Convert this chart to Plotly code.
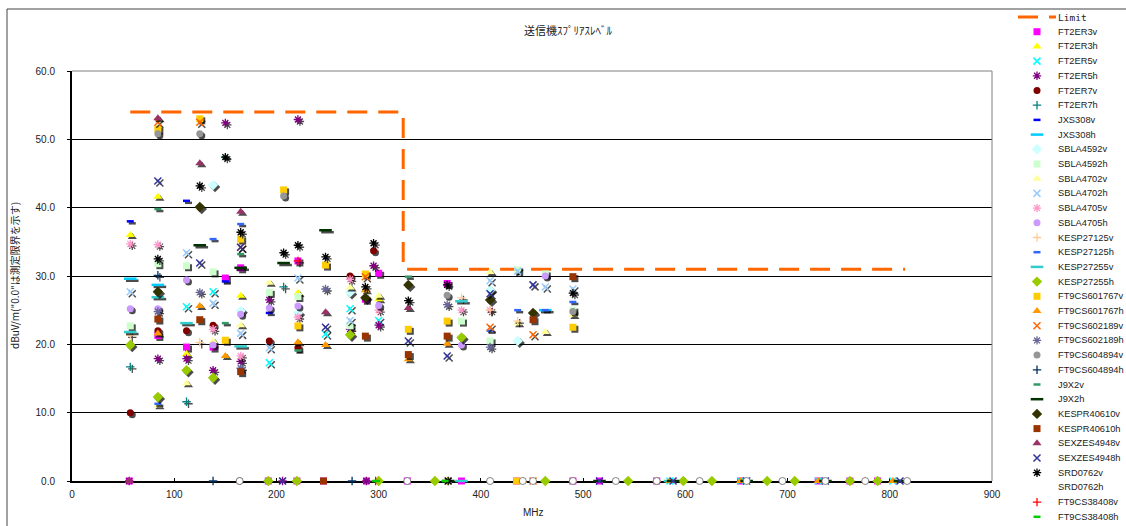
import plotly.graph_objects as go

W, H = 1126, 526

# ---------------- data: (MHz, dBuV/m) per series ----------------
limit_f = [57, 324, 324, 815]
limit_v = [54, 54, 31, 31]

FT2ER3v = [(56, 0), (84, 21.3), (112, 19.6), (138, 19.6), (150, 29.7), (165, 31.2), (192, 0), (220, 0), (221, 32.2),
           (246, 0), (287, 26.6), (288, 0), (300, 30.4), (328, 0), (367, 28.9), (381, 0), (435, 0), (490, 0),
           (516, 0), (572, 0), (654, 0), (730, 0), (761, 0), (788, 0)]
FT2ER3h = [(57, 36.0), (84, 41.6), (112, 18.6), (165, 27.1), (221, 27.5), (300, 26.6)]
FT2ER5v = [(112, 25.5), (138, 27.7), (193, 17.3), (248, 21.5), (272, 25.2), (300, 23.5),
           (585, 0), (654, 0), (730, 0), (803, 0)]
FT2ER5h = [(56, 0), (84, 17.9), (112, 17.9), (138, 16.2), (150, 52.4), (165, 17.5), (193, 26.5), (206, 0),
           (221, 52.9), (272, 22.2), (288, 0), (295, 31.5), (300, 22.8)]
FT2ER7v = [(57, 10.0), (84, 22.0), (112, 22.0), (138, 22.8), (164, 0), (193, 20.5), (221, 19.5), (272, 30.0), (295, 33.7)]
FT2ER7h = [(57, 16.7), (112, 11.6), (207, 28.4)]
JXS308v = [(57, 38.0), (112, 41.0), (150, 29.2), (193, 24.6), (287, 26.9)]
JXS308h = [(57, 29.6), (84, 28.7), (463, 25.0)]
SBLA4592v = [(138, 43.3), (165, 24.9), (221, 24.6), (272, 27.6), (409, 27.9), (436, 20.5)]
SBLA4592h = [(57, 22.7), (84, 31.8), (112, 31.5), (138, 30.6), (193, 27.6), (221, 27.0), (272, 22.7), (381, 23.4),
             (409, 20.5), (436, 30.9), (463, 30.3), (490, 25.0)]
SBLA4702v = [(84, 11.1), (112, 14.3), (138, 20.5), (165, 22.8), (193, 29.0), (272, 28.3), (300, 27.1), (409, 30.6),
             (436, 23.1), (463, 21.8), (490, 24.3)]
SBLA4702h = [(57, 27.7), (112, 33.4), (138, 26.0), (165, 21.6), (193, 19.5), (221, 29.7), (272, 23.5), (409, 29.3),
             (436, 30.7), (463, 28.4), (490, 28.1)]
SBLA4705v = [(57, 34.7), (84, 34.6), (138, 22.2), (165, 18.3), (221, 24.0), (272, 29.5), (300, 25.0), (381, 25.0), (409, 25.0)]
SBLA4705h = [(57, 25.2), (84, 25.2), (112, 29.4), (138, 19.9), (165, 24.4), (193, 25.3), (221, 25.6), (300, 25.7),
             (381, 19.9), (463, 30.0)]
KESP27125v = [(57, 21.3), (125, 20.3), (381, 26.8), (409, 25.0), (436, 23.4), (490, 0), (572, 0), (776, 0)]
KESP27125h = [(84, 11.3), (138, 35.4), (165, 37.6), (409, 22.0), (436, 25.0), (463, 25.0), (490, 26.2)]
KESP27255v = [(57, 21.8), (84, 26.9), (112, 23.1), (165, 19.7), (381, 26.3), (381, 0), (585, 0)]
KESP27255h = [(57, 19.9), (84, 12.3), (112, 16.2), (138, 15.1), (272, 21.4), (381, 21.0), (192, 0), (220, 0), (300, 0),
              (355, 0), (463, 0), (544, 0), (598, 0), (626, 0), (680, 0), (707, 0), (761, 0), (788, 0)]
FT9CS601767v = [(84, 51.5), (125, 53.0), (150, 20.6), (165, 35.4), (207, 42.6), (221, 22.7), (248, 31.6), (287, 30.3),
                (329, 22.2), (367, 23.4), (490, 22.5), (368, 0), (435, 0)]
FT9CS601767h = [(84, 21.6), (125, 25.6), (150, 18.3), (221, 20.3), (248, 19.9), (287, 27.9), (329, 17.8), (367, 20.1),
                (441, 0), (585, 0), (654, 0), (730, 0), (803, 0)]
FT9CS602189v = [(84, 52.5), (125, 52.5), (165, 34.2), (287, 29.9), (409, 22.5), (451, 21.4), (451, 0)]
FT9CS602189h = [(84, 24.8), (125, 27.6), (165, 16.5), (248, 28.1), (367, 25.8), (409, 19.6)]
FT9CS604894v = [(84, 50.8), (125, 50.8), (207, 41.7), (367, 27.2), (490, 24.8)]
FT9CS604894h = [(84, 30.1), (138, 0), (274, 0)]
J9X2v = [(84, 39.8), (150, 47.4), (150, 23.1), (165, 33.2), (221, 19.1), (329, 29.9)]
J9X2h = [(125, 34.5), (165, 31.2), (207, 31.9), (248, 36.7), (368, 0), (516, 0), (588, 0), (660, 0), (737, 0), (810, 0)]
KESPR40610v = [(84, 27.7), (125, 40.1), (287, 26.8), (329, 28.7), (409, 26.5), (451, 24.6)]
KESPR40610h = [(84, 23.7), (125, 23.6), (165, 16.0), (246, 0), (287, 21.2), (329, 18.5), (367, 21.2), (451, 23.6), (490, 29.9)]
SEXZES4948v = [(56, 0), (84, 53.1), (125, 46.5), (165, 39.4), (248, 24.7), (329, 25.3)]
SEXZES4948h = [(84, 43.9), (125, 31.9), (165, 34.2), (248, 22.5), (329, 20.5), (367, 18.3), (409, 27.4), (451, 28.7),
               (206, 0), (368, 0), (516, 0), (588, 0), (660, 0), (737, 0), (810, 0)]
SRD0762v = [(84, 32.5), (125, 43.2), (150, 47.4), (165, 36.4), (207, 33.4), (221, 34.5), (248, 32.8), (287, 28.4),
            (295, 34.8), (329, 26.4), (367, 28.7), (368, 0), (490, 27.5)]
SRD0762h = [(164, 0), (328, 0), (409, 0), (441, 0), (451, 0), (490, 0), (532, 0), (572, 0), (614, 0), (660, 0),
            (695, 0), (737, 0), (776, 0), (817, 0)]
FT9CS38408v = [(221, 32.2), (297, 0)]
FT9CS38408h = [(297, 0), (365, 0)]

# ---------------- styles ----------------
def filled(sym, color, size=7):
    return dict(symbol=sym, color=color, size=size, line=dict(width=0))

def lined(sym, color, size=7, w=1.5):
    return dict(symbol=sym, color=color, size=size, line=dict(color=color, width=w))

series = [
    ("FT2ER3v", FT2ER3v, filled("square", "#FF00FF")),
    ("FT2ER3h", FT2ER3h, filled("triangle-up", "#FFFF00", 8)),
    ("FT2ER5v", FT2ER5v, lined("x-thin", "#00FFFF")),
    ("FT2ER5h", FT2ER5h, lined("asterisk", "#800080", 7, 1.3)),
    ("FT2ER7v", FT2ER7v, filled("circle", "#800000")),
    ("FT2ER7h", FT2ER7h, lined("cross-thin", "#008080", 6, 1.3)),
    ("JXS308v", JXS308v, lined("line-ew", "#0000FF", 5, 2.5)),
    ("JXS308h", JXS308h, lined("line-ew", "#00CCFF", 9, 2.5)),
    ("SBLA4592v", SBLA4592v, filled("diamond", "#CCFFFF", 8)),
    ("SBLA4592h", SBLA4592h, filled("square", "#CCFFCC")),
    ("SBLA4702v", SBLA4702v, filled("triangle-up", "#FFFF99", 8)),
    ("SBLA4702h", SBLA4702h, lined("x-thin", "#99CCFF")),
    ("SBLA4705v", SBLA4705v, lined("asterisk", "#FF99CC", 7, 1.3)),
    ("SBLA4705h", SBLA4705h, filled("circle", "#CC99FF")),
    ("KESP27125v", KESP27125v, lined("cross-thin", "#FFCC99", 6, 1.3)),
    ("KESP27125h", KESP27125h, lined("line-ew", "#3366FF", 5, 2.5)),
    ("KESP27255v", KESP27255v, lined("line-ew", "#33CCCC", 9, 2.5)),
    ("KESP27255h", KESP27255h, filled("diamond", "#99CC00", 8)),
    ("FT9CS601767v", FT9CS601767v, filled("square", "#FFCC00")),
    ("FT9CS601767h", FT9CS601767h, filled("triangle-up", "#FF9900", 8)),
    ("FT9CS602189v", FT9CS602189v, lined("x-thin", "#FF6600")),
    ("FT9CS602189h", FT9CS602189h, lined("asterisk", "#666699", 7, 1.3)),
    ("FT9CS604894v", FT9CS604894v, filled("circle", "#969696")),
    ("FT9CS604894h", FT9CS604894h, lined("cross-thin", "#003366", 6, 1.3)),
    ("J9X2v", J9X2v, lined("line-ew", "#339966", 5, 2.5)),
    ("J9X2h", J9X2h, lined("line-ew", "#003300", 9, 2.5)),
    ("KESPR40610v", KESPR40610v, filled("diamond", "#333300", 8)),
    ("KESPR40610h", KESPR40610h, filled("square", "#993300")),
    ("SEXZES4948v", SEXZES4948v, filled("triangle-up", "#993366", 8)),
    ("SEXZES4948h", SEXZES4948h, lined("x-thin", "#333399")),
    ("SRD0762v", SRD0762v, lined("asterisk", "#000000", 7, 1.3)),
    ("SRD0762h", SRD0762h, filled("circle", "#FFFFFF")),
    ("FT9CS38408v", FT9CS38408v, lined("cross-thin", "#FF0000", 6, 1.3)),
    ("FT9CS38408h", FT9CS38408h, lined("line-ew", "#00CC00", 5, 2.5)),
]

LIMIT_COLOR = "#FF6600"
FONT = "Liberation Sans, Arial, sans-serif"
JFONT = "Noto Sans CJK JP, sans-serif"
SHADOW = "rgba(0,0,0,0.7)"

# plot-area geometry (pixels)
X0PX, X1PX, YTOP, YBOT = 72, 992, 71, 481
XMAX, YMAX = 900, 60
# drop-shadow offset (2 px right, 2 px down) expressed in data units
SDX = 2 * XMAX / (X1PX - X0PX)
SDY = 2 * YMAX / (YBOT - YTOP)

fig = go.Figure()

# limit line
fig.add_trace(go.Scatter(x=limit_f, y=limit_v, mode="lines", name="Limit",
                         line=dict(color=LIMIT_COLOR, width=3, dash="20px,11px"),
                         showlegend=False, hoverinfo="skip"))

for name, pts, mk in series:
    xs = [p[0] for p in pts]
    ys = [p[1] for p in pts]
    sh = dict(mk)
    sh["color"] = SHADOW
    if "line" in mk and mk["line"].get("width", 0) > 0:
        sh["line"] = dict(mk["line"], color=SHADOW)
    fig.add_trace(go.Scatter(x=[v + SDX for v in xs], y=[v - SDY for v in ys], mode="markers",
                             marker=sh, cliponaxis=False, showlegend=False, hoverinfo="skip"))
    m = dict(mk)
    if name == "SRD0762h":
        m = dict(mk, line=dict(color="#666666", width=0.8))
    fig.add_trace(go.Scatter(x=xs, y=ys, mode="markers", name=name, marker=m,
                             cliponaxis=False, showlegend=False))

# ---------------- custom legend (on its own small axes) ----------------
fig.add_trace(go.Scatter(x=[18, 56], y=[0, 0], mode="lines", xaxis="x2", yaxis="y2",
                         line=dict(color=LIMIT_COLOR, width=3, dash="20px,11px"),
                         showlegend=False, hoverinfo="skip"))
for i, (name, pts, mk) in enumerate(series, start=1):
    fig.add_trace(go.Scatter(x=[37], y=[i], mode="markers", xaxis="x2", yaxis="y2",
                             marker=mk, showlegend=False, hoverinfo="skip", cliponaxis=False))
names = ["Limit"] + [s[0] for s in series]
annotations = []
for i, nm in enumerate(names):
    fnt = dict(family=FONT, size=9.3, color="#222222")
    if nm == "Limit":
        fnt = dict(family="DejaVu Sans Mono, monospace", size=9.5, color="#222222")
    annotations.append(dict(x=56, y=i, xref="x2", yref="y2", text=nm, showarrow=False,
                            xanchor="left", yanchor="middle", font=fnt))

# titles
annotations.append(dict(x=568 / W, y=1 - 30 / H, xref="paper", yref="paper", text="送信機ｽﾌﾟﾘｱｽﾚﾍﾞﾙ",
                        showarrow=False, xanchor="center", yanchor="middle",
                        font=dict(family=JFONT, size=11, color="#222222")))
annotations.append(dict(x=14 / W, y=1 - 276 / H, xref="paper", yref="paper",
                        text='dBuV/m("0.0"は測定限界を示す)', textangle=-90,
                        showarrow=False, xanchor="center", yanchor="middle",
                        font=dict(family=JFONT, size=10, color="#222222")))
annotations.append(dict(x=533 / W, y=1 - 512 / H, xref="paper", yref="paper", text="MHz",
                        showarrow=False, xanchor="center", yanchor="middle",
                        font=dict(family=FONT, size=10, color="#222222")))

leg_top, leg_step = 17, 14.7
shapes = [
    dict(type="line", xref="x domain", yref="y domain", x0=0, x1=1, y0=1, y1=1,
         line=dict(color="#808080", width=1), layer="above"),
    dict(type="line", xref="x domain", yref="y domain", x0=1, x1=1, y0=0, y1=1,
         line=dict(color="#808080", width=1), layer="above"),
    dict(type="line", xref="paper", yref="paper", x0=7 / W, x1=1, y0=1 - 9 / H, y1=1 - 9 / H,
         line=dict(color="#444444", width=1)),
    dict(type="line", xref="paper", yref="paper", x0=7 / W, x1=7 / W, y0=0, y1=1 - 9 / H,
         line=dict(color="#444444", width=1)),
]

fig.update_layout(
    template="none",
    width=W, height=H,
    margin=dict(l=0, r=0, t=0, b=0, pad=0, autoexpand=False),
    paper_bgcolor="white", plot_bgcolor="white",
    showlegend=False,
    hovermode=False,
    font=dict(family=FONT, size=10, color="#222222"),
    xaxis=dict(domain=[X0PX / W, X1PX / W], range=[0, XMAX], dtick=100, tick0=0, automargin=False,
               showgrid=False, zeroline=False, showline=True, linecolor="black", linewidth=2,
               ticks="inside", ticklen=3, tickcolor="black", layer="below traces",
               tickfont=dict(family=FONT, size=10, color="#222222"), ticklabelstandoff=3),
    yaxis=dict(domain=[(H - YBOT) / H, (H - YTOP) / H], range=[0, YMAX], dtick=10, tick0=0, tickformat=".1f",
               automargin=False,
               showgrid=True, gridcolor="black", gridwidth=1, zeroline=False,
               showline=True, linecolor="black", linewidth=2,
               ticks="outside", ticklen=3, tickcolor="black", layer="below traces",
               tickfont=dict(family=FONT, size=10, color="#222222"), ticklabelstandoff=10),
    xaxis2=dict(domain=[1000 / W, 1], range=[0, 126], visible=False, fixedrange=True, automargin=False),
    yaxis2=dict(domain=[0, 1], range=[(H - leg_top) / leg_step, -leg_top / leg_step],
                visible=False, fixedrange=True, automargin=False),
    annotations=annotations,
    shapes=shapes,
)

fig.write_html("out.html", config={"displayModeBar": False, "staticPlot": True},
               post_script="document.body.style.margin='0px';document.body.style.overflow='hidden';")
